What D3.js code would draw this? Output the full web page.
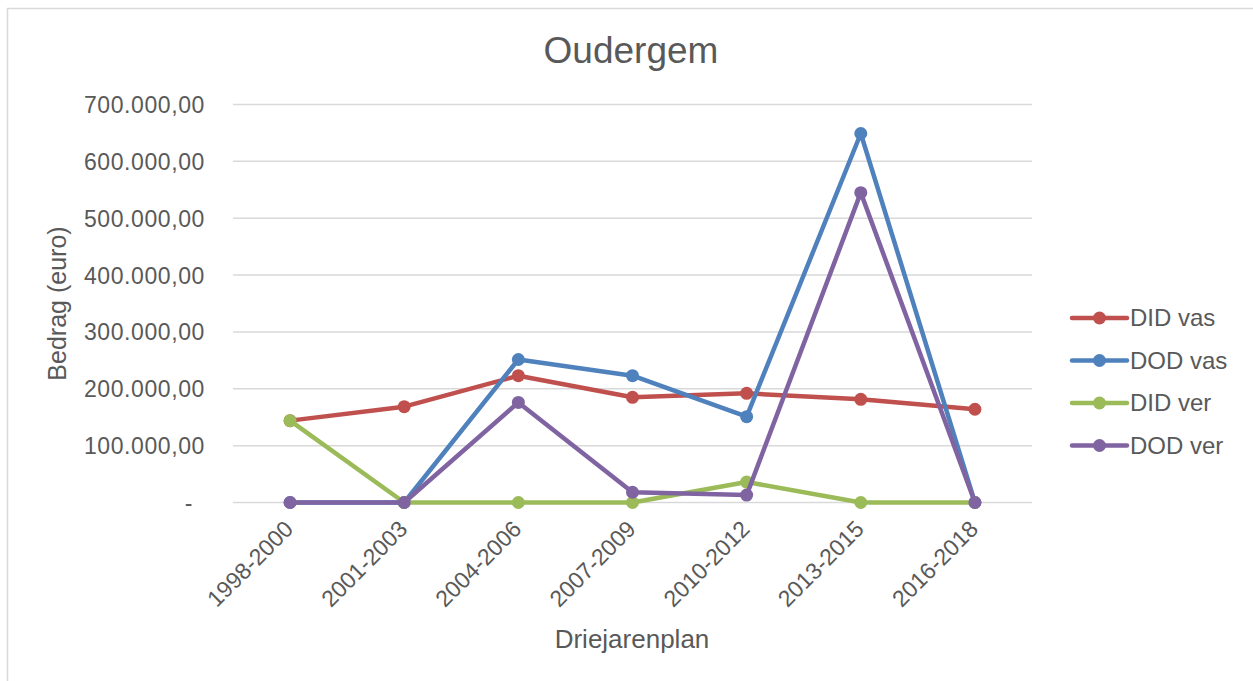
<!DOCTYPE html>
<html>
<head>
<meta charset="utf-8">
<script src="https://cdn.jsdelivr.net/npm/d3@7"></script>
<style>
  body { margin: 0; background: #fff; }
  svg { display: block; font-family: "Liberation Sans", Arial, sans-serif; }
</style>
</head>
<body>
<div id="chart"></div>
<script>
// data
var periods = ["1998-2000", "2001-2003", "2004-2006", "2007-2009", "2010-2012", "2013-2015", "2016-2018"];
var didVas = [144000, 168500, 223000, 185000, 192000, 181500, 164000];
var dodVas = [0, 0, 251500, 223000, 151000, 649000, 0];
var didVer = [144000, 0, 0, 0, 36000, 0, 0];
var dodVer = [0, 0, 176000, 18000, 13000, 545000, 0];
var seriesNames = ["DID vas", "DOD vas", "DID ver", "DOD ver"];
var seriesColors = ["#c0504d", "#4f81bd", "#9bbb59", "#8064a2"];
var yTicks = [0, 100000, 200000, 300000, 400000, 500000, 600000, 700000];

var width = 1253, height = 681;
var plot = {left: 233, right: 1032, top: 104.5, bottom: 502.5};

var svg = d3.select("#chart").append("svg")
    .attr("width", width)
    .attr("height", height);

// chart area border (runs off the right / bottom edge)
svg.append("rect")
    .attr("x", 7.5).attr("y", 8.5)
    .attr("width", 1300).attr("height", 700)
    .attr("fill", "#fff")
    .attr("stroke", "#d9d9d9")
    .attr("stroke-width", 1.5);

var x = d3.scalePoint().domain(periods).range([plot.left, plot.right]).padding(0.5);
var y = d3.scaleLinear().domain([0, 700000]).range([plot.bottom, plot.top]);

// number format like 700.000,00
var nl = d3.formatLocale({decimal: ",", thousands: ".", grouping: [3], currency: ["€", ""]});
var fmt = nl.format(",.2f");

// gridlines
svg.append("g")
  .selectAll("line")
  .data(yTicks)
  .join("line")
    .attr("x1", plot.left).attr("x2", plot.right)
    .attr("y1", function(d) { return y(d); })
    .attr("y2", function(d) { return y(d); })
    .attr("stroke", "#d9d9d9")
    .attr("stroke-width", 1.5);

// y axis labels
var yAxis = d3.axisLeft(y).tickValues(yTicks).tickSize(0).tickPadding(0)
    .tickFormat(function(d) { return d === 0 ? "-" : fmt(d); });
var gy = svg.append("g").attr("transform", "translate(" + 205 + ",0)").call(yAxis);
gy.select(".domain").remove();
gy.selectAll("text")
    .attr("fill", "#595959")
    .style("font-size", "23px")
    .style("letter-spacing", "0.6px")
    .attr("dy", "0.35em");
gy.selectAll(".tick text").filter(function(d) { return d === 0; }).attr("x", -12);

// x axis labels, rotated
var xAxis = d3.axisBottom(x).tickSize(0).tickPadding(0);
var gx = svg.append("g").attr("transform", "translate(0," + plot.bottom + ")").call(xAxis);
gx.select(".domain").remove();
gx.selectAll("text")
    .attr("fill", "#595959")
    .style("font-size", "23px")
    .attr("text-anchor", "end")
    .attr("dy", 0)
    .attr("y", 0)
    .attr("transform", "translate(4,28) rotate(-45)");

// series lines + markers
var allSeries = [didVas, dodVas, didVer, dodVer];
var line = d3.line()
    .x(function(d, i) { return x(periods[i]); })
    .y(function(d) { return y(d); });

allSeries.forEach(function(vals, s) {
  var g = svg.append("g");
  g.append("path")
      .datum(vals)
      .attr("d", line)
      .attr("fill", "none")
      .attr("stroke", seriesColors[s])
      .attr("stroke-width", 4.5)
      .attr("stroke-linejoin", "round");
  g.selectAll("circle")
    .data(vals)
    .join("circle")
      .attr("cx", function(d, i) { return x(periods[i]); })
      .attr("cy", function(d) { return y(d); })
      .attr("r", 6.5)
      .attr("fill", seriesColors[s]);
});

// title
svg.append("text")
    .attr("x", 631).attr("y", 63)
    .attr("text-anchor", "middle")
    .attr("fill", "#595959")
    .style("font-size", "37px")
    .text("Oudergem");

// axis titles
svg.append("text")
    .attr("transform", "translate(66," + ((plot.top + plot.bottom) / 2) + ") rotate(-90)")
    .attr("text-anchor", "middle")
    .attr("fill", "#595959")
    .style("font-size", "25px")
    .text("Bedrag (euro)");

svg.append("text")
    .attr("x", 632).attr("y", 648)
    .attr("text-anchor", "middle")
    .attr("fill", "#595959")
    .style("font-size", "26px")
    .text("Driejarenplan");

// legend
var legend = svg.append("g").attr("transform", "translate(1072,318)");
var item = legend.selectAll("g")
  .data(seriesNames)
  .join("g")
    .attr("transform", function(d, i) { return "translate(0," + (i * 42.5) + ")"; });
item.append("line")
    .attr("x1", 0).attr("x2", 55)
    .attr("stroke", function(d, i) { return seriesColors[i]; })
    .attr("stroke-width", 4.5)
    .attr("stroke-linecap", "round");
item.append("circle")
    .attr("cx", 27.5).attr("r", 6.5)
    .attr("fill", function(d, i) { return seriesColors[i]; });
item.append("text")
    .attr("x", 58).attr("dy", "0.35em")
    .attr("fill", "#595959")
    .style("font-size", "24px")
    .text(function(d) { return d; });
</script>
</body>
</html>
